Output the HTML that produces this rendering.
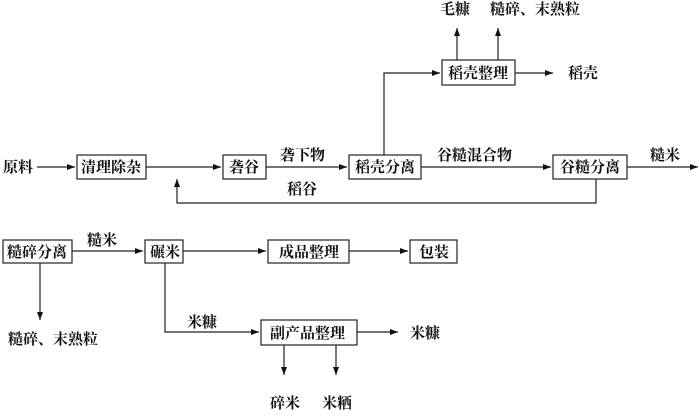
<!DOCTYPE html>
<html><head><meta charset="utf-8"><style>
html,body{margin:0;padding:0;background:#fff;}
svg{display:block;}
text{font-family:"Liberation Serif","Noto Serif CJK SC",serif;font-size:15px;fill:#111;font-weight:bold;}
</style></head><body>
<svg width="700" height="416" viewBox="0 0 700 416" xmlns="http://www.w3.org/2000/svg">
<defs><marker id="a" markerWidth="8" markerHeight="6" refX="8" refY="3" orient="auto" markerUnits="userSpaceOnUse"><path d="M0,0 L8,3 L0,6 z" fill="#111"/></marker></defs>
<g stroke="#222" stroke-width="1.2" fill="none">
<rect x="77" y="155" width="69" height="24"/>
<rect x="223" y="155" width="43" height="24"/>
<rect x="349" y="155" width="72" height="24"/>
<rect x="553" y="155" width="74" height="24"/>
<rect x="442" y="60" width="73" height="25"/>
<rect x="3" y="240" width="69" height="23"/>
<rect x="145" y="240" width="38" height="23"/>
<rect x="268" y="240" width="81" height="23"/>
<rect x="410" y="240" width="47" height="23"/>
<rect x="261" y="320" width="96" height="25"/>
<line x1="37" y1="167" x2="75" y2="167" marker-end="url(#a)"/>
<line x1="146" y1="167" x2="221" y2="167" marker-end="url(#a)"/>
<line x1="266" y1="167" x2="347" y2="167" marker-end="url(#a)"/>
<line x1="421" y1="167" x2="551" y2="167" marker-end="url(#a)"/>
<line x1="627" y1="167" x2="698" y2="167" marker-end="url(#a)"/>
<polyline points="596,179 596,203 177,203 177,179" marker-end="url(#a)"/>
<polyline points="384,155 384,73 440,73" marker-end="url(#a)"/>
<line x1="515" y1="73" x2="553" y2="73" marker-end="url(#a)"/>
<line x1="457" y1="60" x2="457" y2="28" marker-end="url(#a)"/>
<line x1="498" y1="60" x2="498" y2="28" marker-end="url(#a)"/>
<line x1="72" y1="251" x2="143" y2="251" marker-end="url(#a)"/>
<line x1="183" y1="251" x2="266" y2="251" marker-end="url(#a)"/>
<line x1="349" y1="251" x2="408" y2="251" marker-end="url(#a)"/>
<line x1="40" y1="263" x2="40" y2="320" marker-end="url(#a)"/>
<polyline points="165,263 165,332 259,332" marker-end="url(#a)"/>
<line x1="357" y1="332" x2="398" y2="332" marker-end="url(#a)"/>
<line x1="284" y1="345" x2="284" y2="375" marker-end="url(#a)"/>
<line x1="336" y1="345" x2="336" y2="375" marker-end="url(#a)"/>
</g>
<text x="3" y="172">原料</text>
<text x="81" y="172">清理除杂</text>
<text x="229" y="172">砻谷</text>
<text x="280" y="160">砻下物</text>
<text x="355" y="172">稻壳分离</text>
<text x="437" y="160">谷糙混合物</text>
<text x="560" y="172">谷糙分离</text>
<text x="650" y="160">糙米</text>
<text x="287" y="194">稻谷</text>
<text x="448" y="78">稻壳整理</text>
<text x="568" y="78">稻壳</text>
<text x="440" y="14">毛糠</text>
<text x="490" y="14">糙碎、末熟粒</text>
<text x="7" y="257">糙碎分离</text>
<text x="87" y="245">糙米</text>
<text x="150" y="257">碾米</text>
<text x="279" y="257">成品整理</text>
<text x="419" y="257">包装</text>
<text x="8" y="344">糙碎、末熟粒</text>
<text x="187" y="327">米糠</text>
<text x="270" y="338">副产品整理</text>
<text x="410" y="338">米糠</text>
<text x="270" y="408">碎米</text>
<text x="322" y="408">米粞</text>
</svg>
</body></html>
